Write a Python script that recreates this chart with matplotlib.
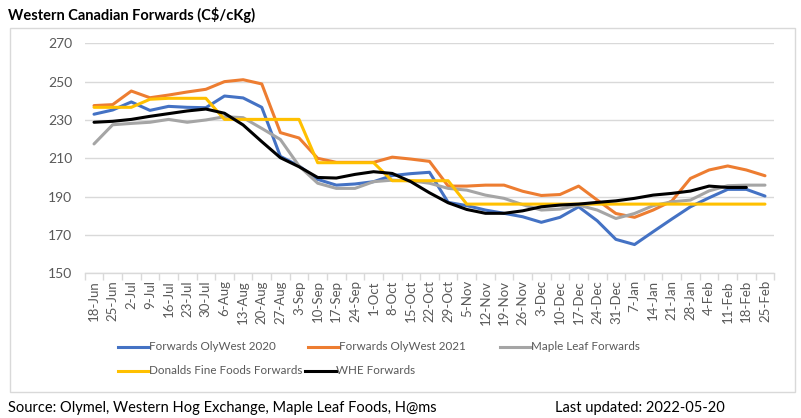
import matplotlib
matplotlib.use("Agg")
import matplotlib.pyplot as plt
from matplotlib.lines import Line2D
from matplotlib.patches import Rectangle

plt.rcParams['font.family'] = ['Lato', 'DejaVu Sans']

dates = ["18-Jun", "25-Jun", "2-Jul", "9-Jul", "16-Jul", "23-Jul", "30-Jul", "6-Aug", "13-Aug",
         "20-Aug", "27-Aug", "3-Sep", "10-Sep", "17-Sep", "24-Sep", "1-Oct", "8-Oct", "15-Oct",
         "22-Oct", "29-Oct", "5-Nov", "12-Nov", "19-Nov", "26-Nov", "3-Dec", "10-Dec", "17-Dec",
         "24-Dec", "31-Dec", "7-Jan", "14-Jan", "21-Jan", "28-Jan", "4-Feb", "11-Feb", "18-Feb",
         "25-Feb"]

olywest_2020 = [233, 235.2, 239.4, 235, 237.1, 236.6, 236.4, 242.5, 241.5, 236.6, 211, 206,
                199, 196, 196.6, 197.8, 201, 202, 202.7, 187, 185.3, 183, 181.3, 179.5, 176.6,
                179.2, 184.7, 177.4, 167.7, 165, 171.7, 178.3, 184.7, 189.4, 193.8, 193.8, 190.3]

olywest_2021 = [237.5, 238, 245.1, 241.6, 243, 244.6, 246, 250, 251, 248.8, 223.4, 220.6,
                210, 207.9, 207.9, 207.9, 210.6, 209.6, 208.4, 195.5, 195.5, 196, 196, 192.8,
                190.6, 191.1, 195.5, 188.2, 181.2, 179.2, 183, 187.7, 199.5, 203.9, 206, 203.9,
                200.9]

maple_leaf = [217.5, 227.5, 228.2, 228.8, 230.3, 228.8, 230, 231.7, 231.2, 225.6, 219.8, 206,
              197, 194.3, 194.3, 197.8, 198.6, 198.3, 197, 194.3, 193.4, 190.8, 189.1, 185.8,
              183, 183.5, 185.6, 183, 178.6, 181.2, 185.3, 187.3, 188.2, 193, 195.7, 196, 196]

donalds = [236.6, 236.6, 236.6, 240.8, 241.3, 241.3, 241.3, 230.3, 230.3, 230.3, 230.3, 230.3,
           207.7, 207.7, 207.7, 207.7, 198.3, 198.3, 198.3, 198.3, 186.1, 186.1, 186.1, 186.1,
           186.1, 186.1, 186.1, 186.1, 186.1, 186.1, 186.1, 186.1, 186.1, 186.1, 186.1, 186.1,
           186.1]

whe = [228.8, 229.3, 230.3, 231.9, 233.3, 234.7, 235.7, 233.5, 227.4, 218.7, 210.3, 205.6,
       200, 199.7, 201.6, 203, 202.1, 197.8, 192, 186.8, 183.3, 181.3, 181.3, 182.6, 184.7,
       185.6, 186.1, 187, 187.8, 189.1, 190.8, 191.7, 192.9, 195.5, 194.8, 194.8, None]

series = [
    ("Forwards OlyWest 2020", olywest_2020, "#4472C4"),
    ("Forwards OlyWest 2021", olywest_2021, "#ED7D31"),
    ("Maple Leaf Forwards", maple_leaf, "#A5A5A5"),
    ("Donalds Fine Foods Forwards", donalds, "#FFC000"),
    ("WHE Forwards", whe, "#000000"),
]

W, H = 801, 418
fig = plt.figure(figsize=(W / 100, H / 100), dpi=100)

def fx(px):
    return px / W

def fy(py):
    return 1 - py / H

# chart border
fig.add_artist(Rectangle((fx(10), fy(392)), fx(795) - fx(10), fy(28) - fy(392),
                         transform=fig.transFigure, fill=False, edgecolor="#d9d9d9", lw=1))

left, right, top, bottom = 84.7, 774.3, 43.3, 273.3
ax = fig.add_axes([fx(left), fy(bottom), fx(right) - fx(left), fy(top) - fy(bottom)])

x = list(range(len(dates)))
for name, vals, col in series:
    xs = [i for i, v in zip(x, vals) if v is not None]
    ys = [v for v in vals if v is not None]
    ax.plot(xs, ys, color=col, lw=2.2, solid_joinstyle="round", solid_capstyle="round")

ax.set_xlim(-0.5, len(dates) - 0.5)
ax.set_ylim(150, 270)
ax.set_yticks(range(150, 271, 20))
ax.grid(axis="y", color="#d9d9d9", lw=1)
ax.set_axisbelow(True)
for s in ["top", "right", "left"]:
    ax.spines[s].set_visible(False)
ax.spines["bottom"].set_color("#d9d9d9")
ax.spines["bottom"].set_linewidth(1)
ax.tick_params(axis="y", length=0, labelsize=10, labelcolor="#595959", pad=9)
ax.set_xticks(x)
ax.set_xticklabels(dates, rotation=90)
ax.tick_params(axis="x", which="major", length=0, labelsize=9.5, labelcolor="#595959", pad=5)
ax.set_xticks([i + 0.5 for i in range(-1, len(dates))], minor=True)
ax.tick_params(axis="x", which="minor", length=5, color="#d9d9d9", width=1)

# title
fig.text(fx(8), fy(15), "Western Canadian Forwards (C$/cKg)", fontsize=10.5,
         fontweight="bold", ha="left", va="center")

# legend (manual, Excel-style flow)
leg_items = [
    (118, 347, 0), (308, 347, 1), (500, 347, 2),
    (118, 371, 3), (305, 371, 4),
]
for lx, ly, idx in leg_items:
    name, vals, col = series[idx]
    fig.add_artist(Line2D([fx(lx), fx(lx + 31)], [fy(ly), fy(ly)], color=col, lw=2.2,
                          transform=fig.transFigure))
    fig.text(fx(lx + 31), fy(ly), name, fontsize=8.4, color="#595959",
             ha="left", va="center")

fig.text(fx(8), fy(408), "Source: Olymel, Western Hog Exchange, Maple Leaf Foods, H@ms",
         fontsize=10.5, ha="left", va="center")
fig.text(fx(555), fy(408), "Last updated: 2022-05-20", fontsize=10.5, ha="left", va="center")

fig.savefig("out.png", dpi=100)
